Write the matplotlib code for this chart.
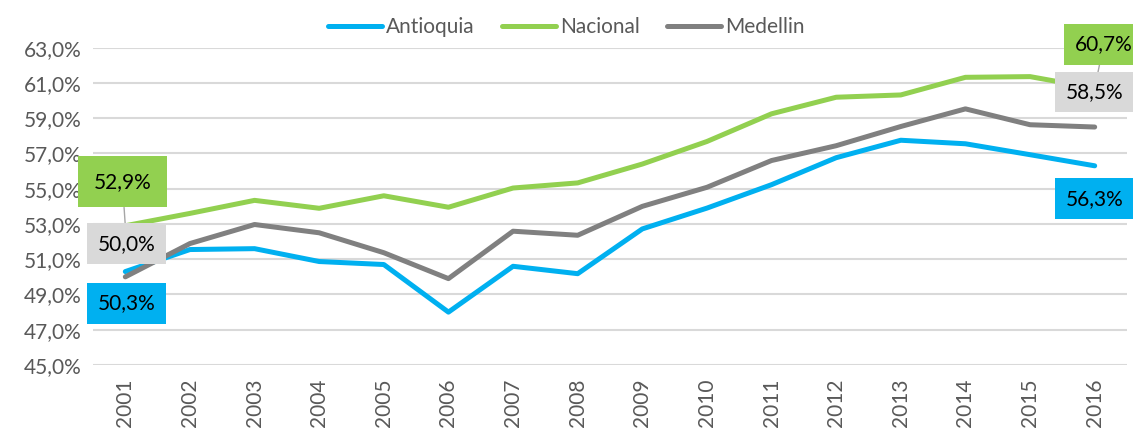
import matplotlib
matplotlib.use("Agg")
import matplotlib.pyplot as plt
from matplotlib.ticker import FuncFormatter

years = ["2001", "2002", "2003", "2004", "2005", "2006", "2007", "2008",
         "2009", "2010", "2011", "2012", "2013", "2014", "2015", "2016"]
antioquia = [50.3, 51.55, 51.6, 50.87, 50.7, 48.0, 50.6, 50.18,
             52.72, 53.9, 55.23, 56.76, 57.75, 57.55, 56.93, 56.3]
nacional = [52.9, 53.6, 54.34, 53.89, 54.6, 53.95, 55.04, 55.33,
            56.4, 57.68, 59.25, 60.19, 60.32, 61.32, 61.36, 60.7]
medellin = [50.0, 51.89, 52.97, 52.5, 51.37, 49.9, 52.59, 52.36,
            54.0, 55.08, 56.6, 57.44, 58.53, 59.53, 58.63, 58.5]
y_ticks = [45, 47, 49, 51, 53, 55, 57, 59, 61, 63]

series_names = ["Antioquia", "Nacional", "Medellin"]
colors = ["#00B0F0", "#92D050", "#808080"]
box_colors = ["#00B0F0", "#92D050", "#D9D9D9"]

plt.rcParams['font.family'] = ['Lato', 'DejaVu Sans']

fig = plt.figure(figsize=(11.33, 4.29), dpi=100)
ax = fig.add_axes([93/1133, 1-365/429, (1127-93)/1133, (365-47.7)/429])

x = list(range(len(years)))
data = [antioquia, nacional, medellin]
for vals, name, c in zip(data, series_names, colors):
    ax.plot(x, vals, color=c, lw=3.6, label=name, solid_capstyle='round',
            solid_joinstyle='round')

ax.set_xlim(-0.5, len(years) - 0.5)
ax.set_ylim(y_ticks[0], y_ticks[-1])
ax.set_yticks(y_ticks)
ax.yaxis.set_major_formatter(FuncFormatter(lambda v, p: f"{v:.1f}%".replace('.', ',')))
ax.set_xticks(x)
ax.set_xticklabels(years, rotation=90)
ax.tick_params(axis='both', length=0, labelsize=15, labelcolor='#595959')
ax.tick_params(axis='x', pad=10)
ax.tick_params(axis='y', pad=8)
ax.grid(axis='y', color='#D9D9D9', lw=1.5)
ax.set_axisbelow(True)
for s in ax.spines.values():
    s.set_visible(False)

# data labels: (series index, point index, dx px, dy px, leader, pad)
labels = [
    (1, 0, -3, 44, True, 0.75),
    (2, 0, 1, 33, False, 0.5),
    (0, 0, 1, -32, False, 0.5),
    (1, 15, 9, 44, True, 0.5),
    (2, 15, 0, 35, False, 0.5),
    (0, 15, 0, -33, False, 0.5),
]
for si, pi, dx, dy, leader, pad in labels:
    v = data[si][pi]
    txt = f"{v:.1f}%".replace('.', ',')
    kw = {}
    if leader:
        kw['arrowprops'] = dict(arrowstyle='-', color='#A6A6A6', lw=1,
                                shrinkA=0, shrinkB=0)
    ax.annotate(txt, xy=(pi, v), xytext=(dx * 0.72, dy * 0.72),
                textcoords='offset points', ha='center', va='center',
                fontsize=15, color='black', annotation_clip=False,
                bbox=dict(boxstyle=f'square,pad={pad}', fc=box_colors[si], ec='none'),
                **kw)

fig.legend(loc='center', bbox_to_anchor=(0.5, 1-27/429), ncol=3, frameon=False,
           fontsize=15, handlelength=2.6, columnspacing=1.3, handletextpad=0.2,
           labelcolor='#595959')

fig.savefig("out.png", dpi=100)
